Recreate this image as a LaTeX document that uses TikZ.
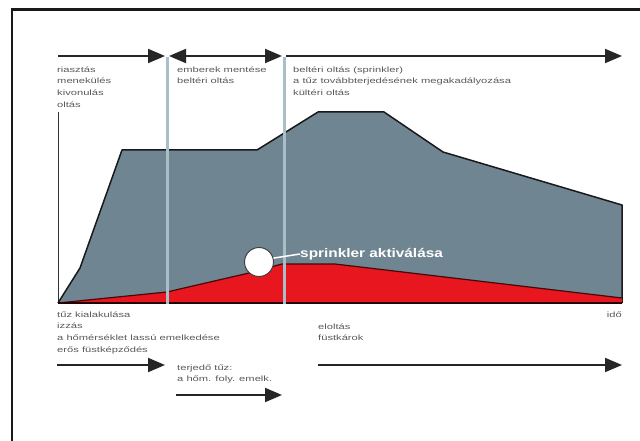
\documentclass[tikz,border=0pt]{standalone}
\usepackage{fontspec}
\setmainfont{Liberation Sans}
\newfontfamily\widefont[FakeStretch=1.45]{Liberation Sans}
\newfontfamily\widebold[FakeStretch=1.23]{Liberation Sans Bold}
\usetikzlibrary{arrows.meta}
\definecolor{smoke}{HTML}{6F8592}
\definecolor{fire}{HTML}{E8161E}
\definecolor{vline}{HTML}{A8BFC7}
\definecolor{txt}{HTML}{5A5A5A}
\begin{document}
\begin{tikzpicture}[x=1pt,y=-1pt,
  lbl/.style={anchor=north west, inner sep=0pt, font=\widefont\fontsize{7.7}{11.6}\selectfont, text=txt, align=left},
  arr/.style={line width=2pt, draw=black!85, -{Triangle[length=17pt,width=14pt]}},
  darr/.style={line width=2pt, draw=black!85, {Triangle[length=17pt,width=14pt]}-{Triangle[length=17pt,width=14pt]}},
  phase/.style={line width=3pt, draw=vline},
  marker/.style={circle, minimum size=29pt, inner sep=0pt, fill=white, draw=black!75, line width=1pt}]
\useasboundingbox (0,0) rectangle (640,441);
\fill[white] (0,0) rectangle (640,441);
% frame
\draw[line width=2.5pt, black!90] (12,441) -- (12,9.5) -- (640,9.5);
% axis
\coordinate (o) at (58,303);
\coordinate (axtop) at (58,112);
\coordinate (e) at (622,303);
\draw[line width=0.6pt, black!80] (axtop) -- (o);
% smoke area
\fill[smoke] (58,303) -- (80,268) -- (122,150) -- (257,150) -- (318,112) -- (384,112) -- (443,152) -- (622,205) -- (622,303) -- cycle;
\draw[line width=1.5pt, black!90, line join=round] (58,303) -- (80,268) -- (122,150) -- (257,150) -- (318,112) -- (384,112) -- (443,152) -- (622,205) -- (622,303);
% fire area
\fill[fire] (58,303) -- (167,292) -- (184,288) -- (249,273) -- (282,264) -- (335,264) -- (622,298) -- (622,303) -- cycle;
\draw[line width=1.2pt, black!70!fire, line join=round] (58,303) -- (167,292) -- (184,288) -- (249,273) -- (282,264) -- (335,264) -- (622,298);
\draw[line width=2pt, black!85!fire] (o) -- (e);
% phase lines
\coordinate (p1t) at (167,57); \coordinate (p1b) at (167,304);
\coordinate (p2t) at (284,57); \coordinate (p2b) at (284,304);
\draw[phase] (p1t) -- (p1b);
\draw[phase] (p2t) -- (p2b);
% top arrows
\coordinate (a1s) at (58,56); \coordinate (a1e) at (165,56);
\coordinate (a2s) at (169,56); \coordinate (a2e) at (282,56);
\coordinate (a3s) at (286,56); \coordinate (a3e) at (622,56);
\draw[arr] (a1s) -- (a1e);
\draw[darr] (a2s) -- (a2e);
\draw[arr] (a3s) -- (a3e);
% top labels
\node[lbl] (t1) at (57,66.5) {riasztás\\menekülés\\kivonulás\\oltás};
\node[lbl] (t2) at (177,66.5) {emberek mentése\\beltéri oltás};
\node[lbl] (t3) at (293,66.5) {beltéri oltás (sprinkler)\\a tűz továbbterjedésének megakadályozása\\kültéri oltás};
% sprinkler marker
\node[marker] (sp) at (259,262) {};
\node[anchor=west, inner sep=0pt, text=white, font=\widebold\fontsize{12.5}{14}\selectfont] (spl) at (300,254) {sprinkler aktiválása};
\draw[white, line width=1.5pt] (sp.15) -- (spl.west);
% bottom labels
\node[lbl] (b1) at (57,311.5) {tűz kialakulása\\izzás\\a hőmérséklet lassú emelkedése\\erős füstképződés};
\node[lbl] (b2) at (177,364.5) {terjedő tűz:\\a hőm. foly. emelk.};
\node[lbl] (b3) at (318,323.5) {eloltás\\füstkárok};
\node[lbl, anchor=north east] (b4) at (622,311.5) {idő};
% bottom arrows
\coordinate (c1s) at (57,365); \coordinate (c1e) at (165,365);
\coordinate (c2s) at (176,395); \coordinate (c2e) at (282,395);
\coordinate (c3s) at (318,365); \coordinate (c3e) at (622,365);
\draw[arr] (c1s) -- (c1e);
\draw[arr] (c2s) -- (c2e);
\draw[arr] (c3s) -- (c3e);
\end{tikzpicture}
\end{document}
